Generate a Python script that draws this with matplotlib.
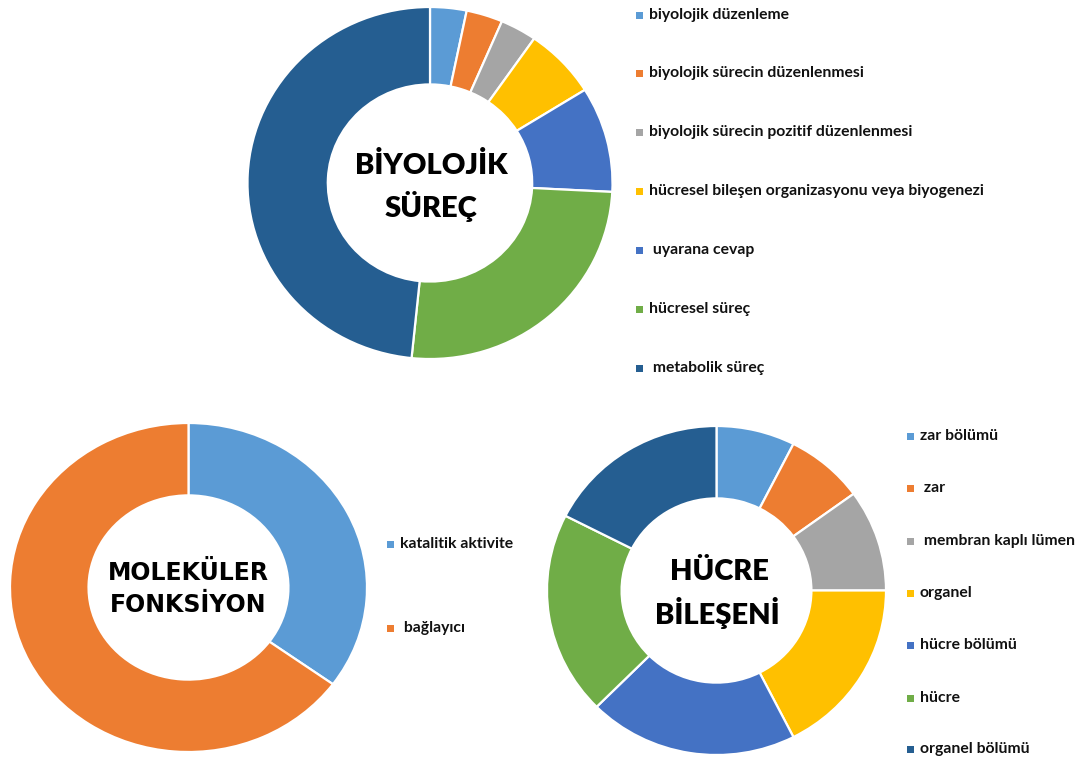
import matplotlib
matplotlib.use("Agg")
import matplotlib.pyplot as plt
from matplotlib.patches import Rectangle

# veri
bs_labels = ["biyolojik düzenleme", "biyolojik sürecin düzenlenmesi",
             "biyolojik sürecin pozitif düzenlenmesi",
             "hücresel bileşen organizasyonu veya biyogenezi",
             " uyarana cevap", "hücresel süreç", " metabolik süreç"]
bs_values = [1, 1, 1, 2, 3, 8, 15]

mf_labels = ["katalitik aktivite", " bağlayıcı"]
mf_values = [35, 65]

hb_labels = ["zar bölümü", " zar", " membran kaplı lümen", "organel",
             "hücre bölümü", "hücre", "organel bölümü"]
hb_values = [3, 3, 4, 7, 8, 8, 7]

renkler = ["#5B9BD5", "#ED7D31", "#A5A5A5", "#FFC000", "#4472C4", "#70AD47", "#255E91"]

W, H = 1090, 760
fig = plt.figure(figsize=(W / 100, H / 100), dpi=100)
fig.patch.set_facecolor("white")

yazi = ["Lato", "DejaVu Sans"]


def halka(cx, cy, rx, ry, degerler, renk):
    # piksel cinsinden merkez ve yarıçaplardan eksen kutusu
    ax = fig.add_axes([(cx - rx) / W, (H - cy - ry) / H, 2 * rx / W, 2 * ry / H])
    ax.pie(degerler, colors=renk, startangle=90, counterclock=False, radius=1,
           wedgeprops=dict(width=0.44, edgecolor="white", linewidth=1.6))
    ax.set_aspect("auto")
    ax.set_xlim(-1, 1)
    ax.set_ylim(-1, 1)
    ax.axis("off")
    return ax


halka(430, 183, 182.5, 176, bs_values, renkler)
halka(188.5, 587.5, 178.5, 164.5, mf_values, renkler[:2])
halka(716.5, 590.5, 169.5, 164.5, hb_values, renkler)

# açıklamalar ve başlıklar için tüm figürü kaplayan eksen
ov = fig.add_axes([0, 0, 1, 1])
ov.set_xlim(0, W)
ov.set_ylim(H, 0)
ov.axis("off")


def aciklama(x, ys, etiketler, renk):
    for y, etiket, c in zip(ys, etiketler, renk):
        ov.add_patch(Rectangle((x - 3.5, y - 3.5), 7, 7, color=c, lw=0))
        ov.text(x + 10, y, etiket, fontsize=11.3, fontweight="bold",
                family=yazi, va="center", ha="left", color="#111111")


aciklama(639, [15, 73, 132, 191, 250, 309, 368], bs_labels, renkler)
aciklama(390, [544, 628], mf_labels, renkler[:2])
aciklama(910, [436, 488, 541, 593, 645, 698, 749], hb_labels, renkler)

ov.text(431, 166, "BİYOLOJİK", fontsize=21, fontweight="heavy", family=yazi,
        ha="center", va="center")
ov.text(431, 206, "SÜREÇ", fontsize=21, fontweight="heavy", family=yazi,
        ha="center", va="center")

ov.text(188, 573, "MOLEKÜLER", fontsize=17, fontweight="bold",
        family=["DejaVu Sans"], ha="center", va="center")
ov.text(188, 605, "FONKSİYON", fontsize=17, fontweight="bold",
        family=["DejaVu Sans"], ha="center", va="center")

ov.text(719, 572, "HÜCRE", fontsize=21, fontweight="heavy", family=yazi,
        ha="center", va="center")
ov.text(717, 613, "BİLEŞENİ", fontsize=21, fontweight="heavy", family=yazi,
        ha="center", va="center")

fig.savefig("out.png", dpi=100, facecolor="white")
